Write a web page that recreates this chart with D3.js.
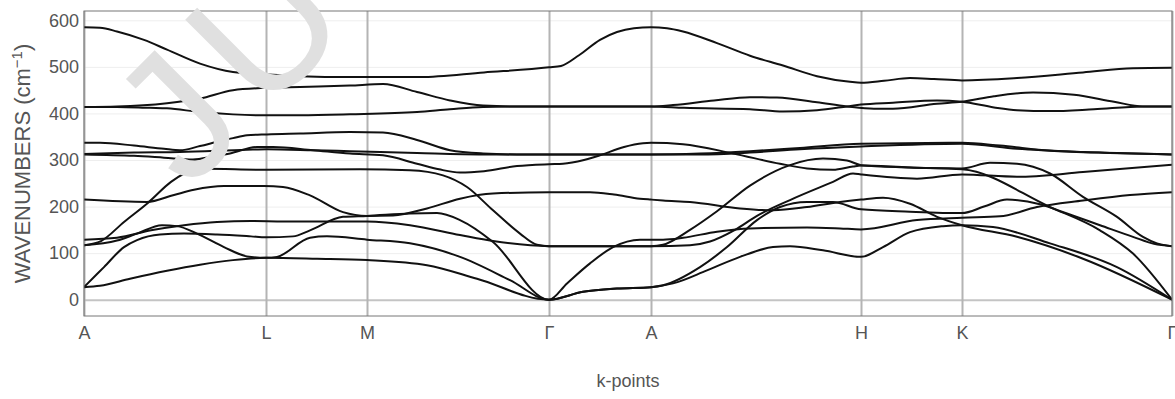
<!DOCTYPE html>
<html>
<head>
<meta charset="utf-8">
<script src="https://cdn.jsdelivr.net/npm/d3@7"></script>
<style>
  body { margin: 0; background: #fff; }
  text { font-family: "Liberation Sans", Arial, sans-serif; }
</style>
</head>
<body>
<div id="wrapper"></div>
<script>
// high-symmetry points along the path (distance units)
const kTicks = [0, 182, 283, 465, 567, 777, 878, 1088]
const kLabels = ["A", "L", "M", "Γ", "A", "H", "K", "Γ"]
const yTicks = [0, 100, 200, 300, 400, 500, 600]

// phonon branches as [k, wavenumber] pairs
const band1 = [[0,585],[16,584],[33,576],[60,558],[83,537],[116,507],[149,489],[182,484],[216,480],[266,478],[336,478],[400,488],[465,499],[477,502],[495,525],[516,558],[533,575],[550,583],[567,585],[583,583],[599,576],[633,551],[666,524],[699,503],[733,480],[766,468],[777,466],[800,470],[826,476],[850,474],[878,471],[933,476],[999,488],[1049,497],[1088,498]]
const band2 = [[0,414],[33,415],[83,422],[116,432],[149,450],[183,455],[216,457],[266,460],[299,463],[333,446],[366,428],[399,417],[433,415],[465,415],[567,415],[589,418],[630,428],[666,435],[693,434],[733,424],[763,415],[790,410],[809,410],[853,421],[878,425],[910,437],[949,445],[990,440],[1030,425],[1059,415],[1088,415]]
const band3 = [[0,414],[33,414],[66,412],[83,411],[116,403],[149,398],[183,396],[216,396],[266,398],[333,403],[366,409],[399,414],[433,415],[465,415],[567,415],[600,412],[666,409],[699,404],[733,407],[763,415],[777,419],[809,423],[853,428],[878,425],[910,413],[933,407],[966,405],[1010,409],[1059,415],[1088,415]]
const band4 = [[0,337],[16,337],[50,331],[80,324],[96,321],[116,330],[133,339],[149,347],[163,353],[183,355],[216,357],[266,360],[299,359],[333,343],[366,321],[399,314],[433,312],[465,312],[567,312],[616,314],[666,319],[716,326],[777,335],[878,337],[916,331],[966,320],[1033,315],[1088,312]]
const band5 = [[0,313],[50,316],[96,317],[163,322],[183,323],[229,321],[266,319],[333,315],[399,312],[465,312],[567,312],[616,312],[666,316],[716,323],[777,329],[878,335],[933,324],[999,317],[1088,312]]
const band6 = [[0,312],[50,309],[80,305],[109,301],[130,308],[146,314],[173,328],[189,328],[229,321],[266,314],[299,310],[333,292],[355,280],[376,273],[400,276],[433,287],[465,291],[479,292],[500,300],[516,310],[540,328],[559,336],[567,337],[599,334],[649,314],[696,292],[723,282],[749,279],[769,286],[777,288],[826,284],[878,282],[906,294],[933,292],[966,271],[999,221],[1033,178],[1059,135],[1073,121],[1088,115]]
const band7 = [[0,27],[16,30],[46,45],[83,62],[116,75],[149,85],[182,90],[233,88],[283,85],[343,74],[393,45],[465,0],[499,17],[533,24],[567,27],[589,35],[623,63],[656,92],[689,113],[706,115],[739,106],[777,92],[799,113],[826,145],[859,158],[878,160],[909,156],[966,121],[1033,70],[1088,0]]
const band8 = [[0,27],[20,70],[40,113],[53,128],[76,140],[100,142],[133,140],[167,136],[182,134],[209,136],[226,149],[259,178],[283,180],[326,185],[353,186],[376,171],[409,124],[465,0],[483,35],[506,78],[529,113],[556,129],[579,129],[599,133],[633,146],[666,153],[723,155],[756,153],[777,151],[833,171],[878,176],[916,179],[953,199],[999,213],[1046,225],[1088,231]]
const band9 = [[0,117],[33,127],[53,142],[78,160],[93,158],[113,142],[140,113],[163,93],[182,90],[193,92],[226,133],[243,136],[283,129],[326,121],[376,92],[426,42],[465,0],[499,17],[533,24],[567,27],[579,31],[616,70],[643,113],[673,171],[696,199],[723,210],[749,210],[777,194],[826,189],[878,186],[900,200],[923,215],[956,205],[983,185],[1016,160],[1049,135],[1070,120],[1088,115]]
const band10 = [[0,117],[17,126],[40,167],[65,210],[87,253],[110,279],[120,281],[182,279],[276,280],[326,278],[359,267],[383,242],[409,192],[436,142],[453,118],[465,115],[567,115],[606,117],[626,125],[651,150],[673,180],[706,214],[749,253],[769,271],[777,269],[833,260],[878,269],[933,264],[999,274],[1088,290]]
const band11 = [[0,129],[33,133],[67,149],[100,160],[133,167],[167,169],[200,168],[283,168],[326,160],[376,139],[409,126],[465,115],[567,115],[579,118],[606,150],[633,190],[666,245],[706,289],[739,303],[763,299],[777,289],[826,284],[878,280],[966,199],[1016,149],[1049,99],[1088,0]]
const band12 = [[0,215],[63,210],[90,225],[110,236],[140,244],[180,244],[199,242],[226,224],[259,188],[283,180],[309,181],[343,196],[376,217],[409,228],[465,231],[506,231],[530,226],[556,217],[567,215],[579,213],[606,210],[656,196],[689,192],[723,199],[756,210],[777,215],[799,219],[826,206],[853,178],[878,160],[933,135],[999,88],[1088,0]]

const bands = [band1, band2, band3, band4, band5, band6, band7, band8, band9, band10, band11, band12]

function drawBands() {
  let dms = {
    width: 1175,
    height: 399,
    margins: {
      top: 11,
      right: 3,
      bottom: 83,
      left: 84,
    }
  }
  dms.boundedWidth = dms.width - dms.margins.left - dms.margins.right
  dms.boundedHeight = dms.height - dms.margins.top - dms.margins.bottom

  const wrapper = d3.select("#wrapper")
    .append("svg")
    .attr("width", dms.width)
    .attr("height", dms.height)

  const bounds = wrapper.append("g")
    .attr("transform", `translate(${dms.margins.left},${dms.margins.top})`)

  const xScale = d3.scaleLinear()
    .domain([0, 1088])
    .range([0, dms.boundedWidth])

  const yScale = d3.scaleLinear()
    .domain([-35, 620])
    .range([dms.boundedHeight, 0])

  // horizontal grid + y labels
  const yAxis = bounds.append("g")
    .call(d3.axisLeft(yScale)
      .tickValues(yTicks)
      .tickSize(-dms.boundedWidth)
      .tickPadding(5))
  yAxis.select(".domain").remove()
  yAxis.selectAll(".tick line")
    .attr("stroke", d => d === 0 ? "#c4c4c4" : "#eeeeee")
    .attr("stroke-width", d => d === 0 ? 2 : 1)
  yAxis.selectAll(".tick text")
    .attr("fill", "#555")
    .style("font-size", "18px")

  // vertical lines at high-symmetry points + labels
  const xAxis = bounds.append("g")
    .attr("transform", `translate(0,${dms.boundedHeight})`)
    .call(d3.axisBottom(xScale)
      .tickValues(kTicks)
      .tickFormat((d, i) => kLabels[i])
      .tickSize(-dms.boundedHeight)
      .tickPadding(10))
  xAxis.select(".domain").remove()
  xAxis.selectAll(".tick line")
    .attr("stroke", "#b4b4b4")
    .attr("stroke-width", 2)
  xAxis.selectAll(".tick text")
    .attr("fill", "#555")
    .style("font-size", "18px")

  // watermark
  wrapper.append("text")
    .attr("transform", "translate(188,192) rotate(-45)")
    .attr("fill", "#e0e0e0")
    .style("font-size", "180px")
    .style("letter-spacing", "16px")
    .text("JU")

  bounds.append("clipPath")
    .attr("id", "plot-clip")
    .append("rect")
    .attr("width", dms.boundedWidth)
    .attr("height", dms.boundedHeight)

  const lineGenerator = d3.line()
    .x(d => xScale(d[0]))
    .y(d => yScale(d[1]))
    .curve(d3.curveMonotoneX)

  bounds.append("g")
    .attr("clip-path", "url(#plot-clip)")
    .selectAll("path")
    .data(bands)
    .join("path")
    .attr("d", lineGenerator)
    .attr("fill", "none")
    .attr("stroke", "#111")
    .attr("stroke-width", 2)

  // frame
  bounds.append("rect")
    .attr("width", dms.boundedWidth)
    .attr("height", dms.boundedHeight)
    .attr("fill", "none")
    .attr("stroke", "#777")
    .attr("stroke-width", 1)

  wrapper.append("text")
    .attr("x", dms.margins.left + dms.boundedWidth / 2)
    .attr("y", 387)
    .attr("text-anchor", "middle")
    .attr("fill", "#555")
    .style("font-size", "18px")
    .text("k-points")

  const yTitle = wrapper.append("text")
    .attr("transform", `translate(30,${dms.margins.top + dms.boundedHeight / 2}) rotate(-90)`)
    .attr("text-anchor", "middle")
    .attr("fill", "#555")
    .style("font-size", "22px")
  yTitle.append("tspan").text("WAVENUMBERS (cm")
  yTitle.append("tspan").attr("dy", -8).style("font-size", "15px").text("−1")
  yTitle.append("tspan").attr("dy", 8).text(")")
}

drawBands()
</script>
</body>
</html>
